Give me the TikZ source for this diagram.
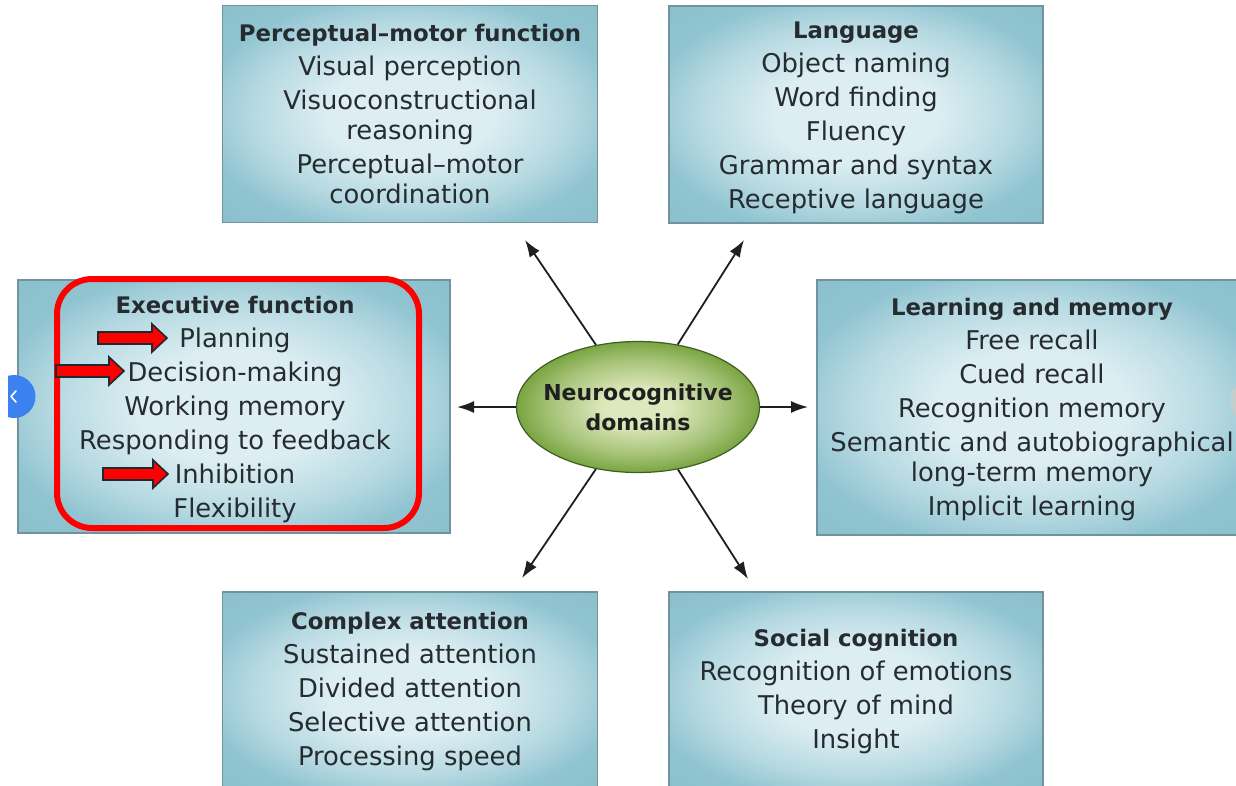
\documentclass[tikz,border=0pt]{standalone}
\usepackage{fontspec}
\setmainfont{DejaVu Sans}
\usetikzlibrary{arrows.meta,shapes.geometric}
\definecolor{txt}{HTML}{262B30}
\definecolor{boxin}{HTML}{DCEEF2}
\definecolor{boxout}{HTML}{90C4D1}
\definecolor{boxedge}{HTML}{6F949F}
\definecolor{grin}{HTML}{DDE8BC}
\definecolor{grout}{HTML}{7AA542}
\definecolor{gredge}{HTML}{3F5E22}
\definecolor{hlred}{HTML}{FF0000}
\definecolor{arredge}{HTML}{1E2A33}
\definecolor{uiblue}{HTML}{3B82F0}
\pgfdeclareradialshading{boxshade}{\pgfpoint{0bp}{0bp}}{color(0bp)=(boxin); color(11bp)=(boxin); color(21bp)=(boxin!50!boxout); color(28bp)=(boxout); color(50bp)=(boxout!93!black)}
\pgfdeclareradialshading{greenshade}{\pgfpoint{0bp}{0bp}}{color(0bp)=(grin); color(7bp)=(grin); color(18bp)=(grin!45!grout); color(25bp)=(grout); color(50bp)=(grout)}
\tikzset{
  dombox/.style={draw=boxedge, line width=1.5pt, shading=boxshade, rectangle, inner sep=0pt},
  domtext/.style={align=center, text=txt, font=\fontsize{25.8}{34}\selectfont, inner sep=0pt},
  conn/.style={draw=black!88, line width=1.8pt, -{Latex[length=17pt,width=12pt]}},
  hlbox/.style={draw=hlred, line width=6pt, rounded corners=35pt, rectangle, inner sep=0pt},
  blockarr/.style={fill=hlred, draw=arredge, line width=1.6pt, line join=miter}
}
\newcommand\ttl[1]{{\bfseries\fontsize{22.8}{34}\selectfont #1}}
\newcommand\blockarrow[3]{%
  \path[blockarr] (#1,#3-6) -- (#2-15,#3-6) -- (#2-15,#3-14) -- (#2,#3) -- (#2-15,#3+14) -- (#2-15,#3+6) -- (#1,#3+6) -- cycle;}
\begin{document}
\begin{tikzpicture}[x=1pt,y=-1pt]
\useasboundingbox (0,0) rectangle (1236,785);
\clip (0,0) rectangle (1236,785);
\fill[white] (0,0) rectangle (1236,785);

% boxes
\node[dombox, minimum width=375pt, minimum height=217pt] (pmbox) at (410,114) {};
\node[dombox, minimum width=374pt, minimum height=217pt] (lgbox) at (856,114.5) {};
\node[dombox, minimum width=432pt, minimum height=253pt] (efbox) at (234,406.5) {};
\node[dombox, minimum width=430pt, minimum height=255pt] (lmbox) at (1032,407.5) {};
\node[dombox, minimum width=375pt, minimum height=200pt] (cabox) at (410,692) {};
\node[dombox, minimum width=374pt, minimum height=200pt] (scbox) at (856,692) {};

% texts
\node[domtext] (pmtext) at (410,114.5) {\ttl{Perceptual–motor function}\\Visual perception\\Visuoconstructional\\[-4pt]reasoning\\Perceptual–motor\\[-4pt]coordination};
\node[domtext] (lgtext) at (856,118) {\ttl{Language}\\Object naming\\Word finding\\Fluency\\Grammar and syntax\\Receptive language};
\node[domtext] (eftext) at (235,410) {\ttl{Executive function}\\Planning\\Decision-making\\Working memory\\Responding to feedback\\Inhibition\\Flexibility};
\node[domtext] (lmtext) at (1032,410) {\ttl{Learning and memory}\\Free recall\\Cued recall\\Recognition memory\\Semantic and autobiographical\\[-4pt]long-term memory\\Implicit learning};
\node[domtext] (catext) at (410,692) {\ttl{Complex attention}\\Sustained attention\\Divided attention\\Selective attention\\Processing speed};
\node[domtext] (sctext) at (856,692) {\ttl{Social cognition}\\Recognition of emotions\\Theory of mind\\Insight};

% centre ellipse
\node[ellipse, draw=gredge, line width=1.2pt, shading=greenshade, minimum width=243pt, minimum height=131pt, inner xsep=-14pt, inner ysep=0pt, align=center, text=black!88, font=\bfseries\fontsize{22}{30}\selectfont] (nc) at (638,407) {Neurocognitive\\domains};

% connectors
\coordinate (tUL) at (525,240);
\coordinate (tUR) at (744,240);
\coordinate (tL) at (457,407);
\coordinate (tR) at (808,407);
\coordinate (tLL) at (522,578);
\coordinate (tLR) at (748,579);
\draw[conn] (nc) -- (tUL);
\draw[conn] (nc) -- (tUR);
\draw[conn] (nc) -- (tL);
\draw[conn] (nc) -- (tR);
\draw[conn] (nc) -- (tLL);
\draw[conn] (nc) -- (tLR);

% highlight
\node[hlbox, minimum width=362pt, minimum height=249pt] (hl) at (238,403.5) {};
\blockarrow{98}{167}{338}
\blockarrow{56}{124}{371}
\blockarrow{103}{168}{474}

% screen UI remnants
\begin{scope}
\clip (8,0) rectangle (60,785);
\fill[uiblue] (14,396.5) circle (21.5);
\end{scope}
\draw[white, line width=1.6pt, line cap=round, line join=round] (16,391) -- (11,396.5) -- (16,402);
\fill[black!30!brown!30, opacity=0.55] (1252,401) circle (22);
\end{tikzpicture}
\end{document}
